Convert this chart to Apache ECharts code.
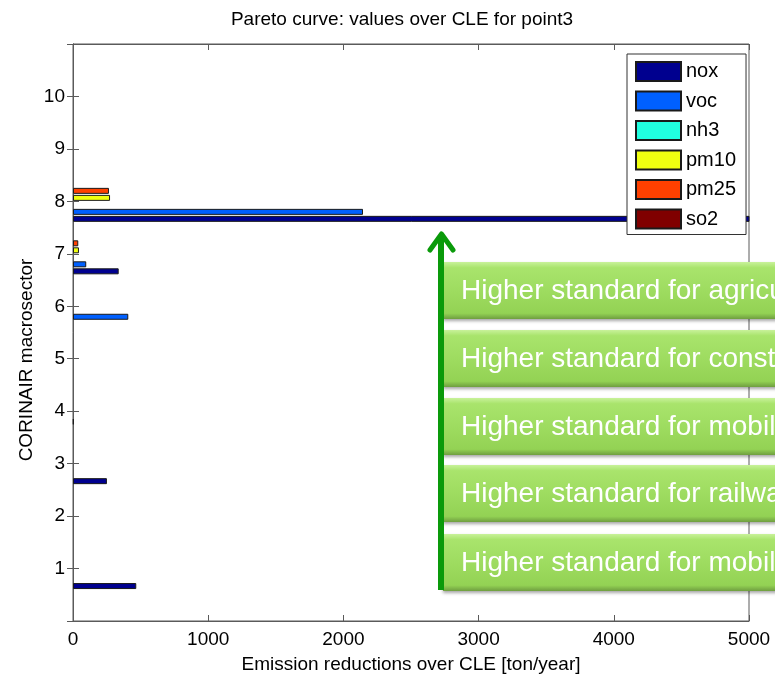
<!DOCTYPE html>
<html><head><meta charset="utf-8">
<script src="https://cdn.jsdelivr.net/npm/echarts@6/dist/echarts.min.js"></script>
<style>html,body{margin:0;padding:0;background:#fff}#c{width:775px;height:679px}</style>
</head><body><div id="c"></div>
<script>
// categories (macrosector positions, 0 and 11 are padding ends of the axis)
const sectors = ['0','1','2','3','4','5','6','7','8','9','10','11'];
const sectorLabels = ['','1','2','3','4','5','6','7','8','9','10',''];
const pollutants = ['nox','voc','nh3','pm10','pm25','so2'];
// emission reductions over CLE [ton/year] per macrosector
const nox  = ['-',468,'-',251,'-','-','-',338,5400,'-','-','-'];
const voc  = ['-','-','-','-',5,'-',409,98,2145,'-','-','-'];
const nh3  = ['-','-','-','-','-','-','-','-','-','-','-','-'];
const pm10 = ['-','-','-','-','-','-','-',44,274,'-','-','-'];
const pm25 = ['-','-','-','-','-','-','-',39,266,'-','-','-'];
const so2  = ['-','-','-','-','-','-','-','-','-','-','-','-'];
const boxTexts = ['Higher standard for agriculture','Higher standard for construction','Higher standard for mobile','Higher standard for railways','Higher standard for mobile'];

const seriesData = [nox, voc, nh3, pm10, pm25, so2];
const colors = ['#00008F','#0060FF','#20FFE0','#F0FF10','#FF4000','#800000'];
const FONT = '"Liberation Sans", Arial, sans-serif';

const chart = echarts.init(document.getElementById('c'));
const axisGray = '#5a5a5a';

const boxTops = [262, 330, 398, 465, 534];
const graphics = [];
boxTops.forEach((t, i) => {
  graphics.push({
    type: 'rect', z: 100,
    shape: { x: 443, y: t, width: 420, height: 57 },
    style: {
      fill: new echarts.graphic.LinearGradient(0, 0, 0, 1, [
        { offset: 0, color: '#C8F29A' },
        { offset: 0.1, color: '#A9E46C' },
        { offset: 0.5, color: '#9EDC60' },
        { offset: 0.9, color: '#93D254' },
        { offset: 1, color: '#6F9E40' }
      ]),
      shadowColor: 'rgba(0,0,0,0.35)', shadowBlur: 3, shadowOffsetY: 2, shadowOffsetX: 0
    }
  });
  graphics.push({
    type: 'text', z: 101,
    x: 461, y: t + 29,
    style: { text: boxTexts[i], fill: '#ffffff', font: '28px ' + FONT, verticalAlign: 'middle', align: 'left' }
  });
});
graphics.push({
  type: 'polyline', z: 102,
  shape: { points: [[441, 590], [441, 236]] },
  style: { stroke: '#0A9A0A', lineWidth: 6, fill: null }
});
graphics.push({
  type: 'polyline', z: 102,
  shape: { points: [[430, 250], [441.5, 234], [453, 250]] },
  style: { stroke: '#0A9A0A', lineWidth: 5, lineCap: 'round', lineJoin: 'round', fill: null }
});
graphics.push({
  type: 'text', z: 50,
  x: 27, y: 360, rotation: Math.PI / 2,
  style: { text: 'CORINAIR macrosector', fill: '#000', font: '19px ' + FONT, align: 'center', verticalAlign: 'middle' }
});

// series listed from last to first so that nox sits lowest in each group (as in the reference)
const order = [5, 4, 3, 2, 1, 0];

const option = {
  animation: false,
  backgroundColor: '#fff',
  textStyle: { fontFamily: FONT },
  title: {
    text: 'Pareto curve: values over CLE for point3',
    left: 397, top: 5, textAlign: 'center',
    textStyle: { fontFamily: FONT, fontSize: 19, fontWeight: 'normal', color: '#000' }
  },
  legend: {
    data: pollutants,
    orient: 'vertical', left: 627, top: 54,
    itemWidth: 45, itemHeight: 19, itemGap: 8.5,
    padding: [7, 10, 5, 8],
    backgroundColor: '#fff', borderColor: '#333', borderWidth: 1,
    icon: 'rect',
    textStyle: { fontFamily: FONT, fontSize: 20, lineHeight: 20, color: '#000' },
    z: 20
  },
  grid: { left: 73, right: 26, top: 44, bottom: 56, show: true, borderColor: axisGray, borderWidth: 1, containLabel: false },
  xAxis: [{
    type: 'value', min: 0, max: 5000, interval: 1000,
    position: 'bottom',
    name: 'Emission reductions over CLE [ton/year]',
    nameLocation: 'middle', nameGap: 34,
    nameTextStyle: { fontFamily: FONT, fontSize: 19, color: '#000' },
    axisLine: { show: true, lineStyle: { color: axisGray } },
    axisTick: { show: true, inside: true, length: 6, lineStyle: { color: axisGray } },
    axisLabel: { fontFamily: FONT, fontSize: 19, color: '#000', margin: 9, formatter: v => String(v) },
    splitLine: { show: false }
  }, {
    type: 'value', min: 0, max: 5000, interval: 1000, position: 'top',
    axisLine: { show: true, lineStyle: { color: axisGray } },
    axisTick: { show: true, inside: true, length: 6, lineStyle: { color: axisGray } },
    axisLabel: { show: false }, splitLine: { show: false }
  }],
  yAxis: [{
    type: 'category', data: sectors, boundaryGap: false, position: 'left',
    axisLine: { show: true, lineStyle: { color: axisGray } },
    axisTick: { show: true, inside: true, length: 6, lineStyle: { color: axisGray } },
    axisLabel: { fontFamily: FONT, fontSize: 19, color: '#000', margin: 8, interval: 0,
      formatter: (v, i) => sectorLabels[i] },
    splitLine: { show: false }
  }, {
    type: 'category', data: sectors, boundaryGap: false, position: 'right',
    axisLine: { show: true, lineStyle: { color: axisGray } },
    axisTick: { show: true, inside: true, length: 6, interval: 0, lineStyle: { color: axisGray } },
    axisLabel: { show: false }, splitLine: { show: false }
  }],
  series: order.map(i => ({
    name: pollutants[i], type: 'bar', xAxisIndex: 0, yAxisIndex: 0,
    data: seriesData[i],
    barWidth: 6, barGap: '16.7%',
    itemStyle: { color: colors[i], borderColor: '#1a1a1a', borderWidth: 1 },
    emphasis: { disabled: true }
  })),
  graphic: graphics
};
chart.setOption(option);
</script>
</body></html>
